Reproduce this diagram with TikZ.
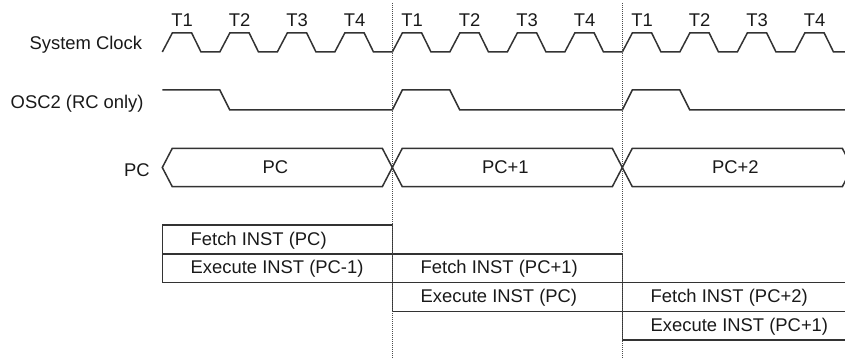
\documentclass[tikz,border=0pt]{standalone}
\usepackage{fontspec}
\setmainfont{Liberation Sans}
\begin{document}
\begin{tikzpicture}[x=0.5pt,y=-0.5pt,
        wave/.style={line width=0.75pt,draw=black!80,line join=miter},
        cellbox/.style={line width=0.75pt,draw=black!80},
        lbl/.style={inner sep=0pt,text=black!90,font=\fontsize{9.2}{11}\selectfont},
        cycleline/.style={line width=0.5pt,draw=black!70,dash pattern=on 0.5pt off 0.5pt}]
        \useasboundingbox (0,0) rectangle (845,358);
        \clip (0,0) rectangle (845,358);
        %% Signal names
        \node[lbl,anchor=east] (clk) at (142.5,45) {System Clock};
        \node[lbl,anchor=east] (osc) at (144,104) {OSC2 (RC only)};
        \node[lbl,anchor=east] (pc) at (150,170) {PC};
        %% System clock
        \draw[wave] (162.3,52) \foreach \k in {0,...,11} { -- ++(10,-19) -- ++(19.4,0) -- ++(9.3,19) -- ++(18.8,0) };
        \foreach \i in {0,1,2} {
            \foreach \j in {1,...,4} {
                \node[lbl] (t\i\j) at ({162.3+230*\i+57.5*(\j-1)+19.7},20) {T\j};
            }
        }
        %% OSC2
        \draw[wave] (162.3,90) -- (219.8,90) -- (229.8,110) -- (392.3,110)
            -- (402.3,90) -- (449.8,90) -- (459.8,110) -- (622.3,110)
            -- (632.3,90) -- (679.8,90) -- (689.8,110) -- (852.3,110);
        %% PC bus
        \foreach \i/\v in {0/PC,1/PC+1,2/PC+2} {
            \draw[wave] ({162.3+230*\i},167.5) -- ++(10,-19.2) -- ++(210,0) -- ++(10,19.2) -- ++(-10,19.2) -- ++(-210,0) -- cycle;
            \node[lbl] (bus\i) at ({162.3+230*\i+113},167.5) {\v};
        }
        %% Fetch / execute
        \foreach \i/\f/\e in {0/PC/PC-1,1/PC+1/PC,2/PC+2/PC+1} {
            \draw[cellbox] ({162.3+230*\i},{225+28.8*\i}) rectangle ++(230,28.8);
            \draw[cellbox] ({162.3+230*\i},{253.8+28.8*\i}) rectangle ++(230,28.8);
            \node[lbl,anchor=west] (fetch\i) at ({190.3+230*\i},{240.4+28.8*\i}) {Fetch INST (\f)};
            \node[lbl,anchor=west] (exec\i) at ({190.3+230*\i},{268.8+28.8*\i}) {Execute INST (\e)};
        }
        %% Cycle boundaries
        \draw[cycleline] (392.3,3) -- (392.3,358);
        \draw[cycleline] (622.3,3) -- (622.3,358);
    \end{tikzpicture}
\end{document}
